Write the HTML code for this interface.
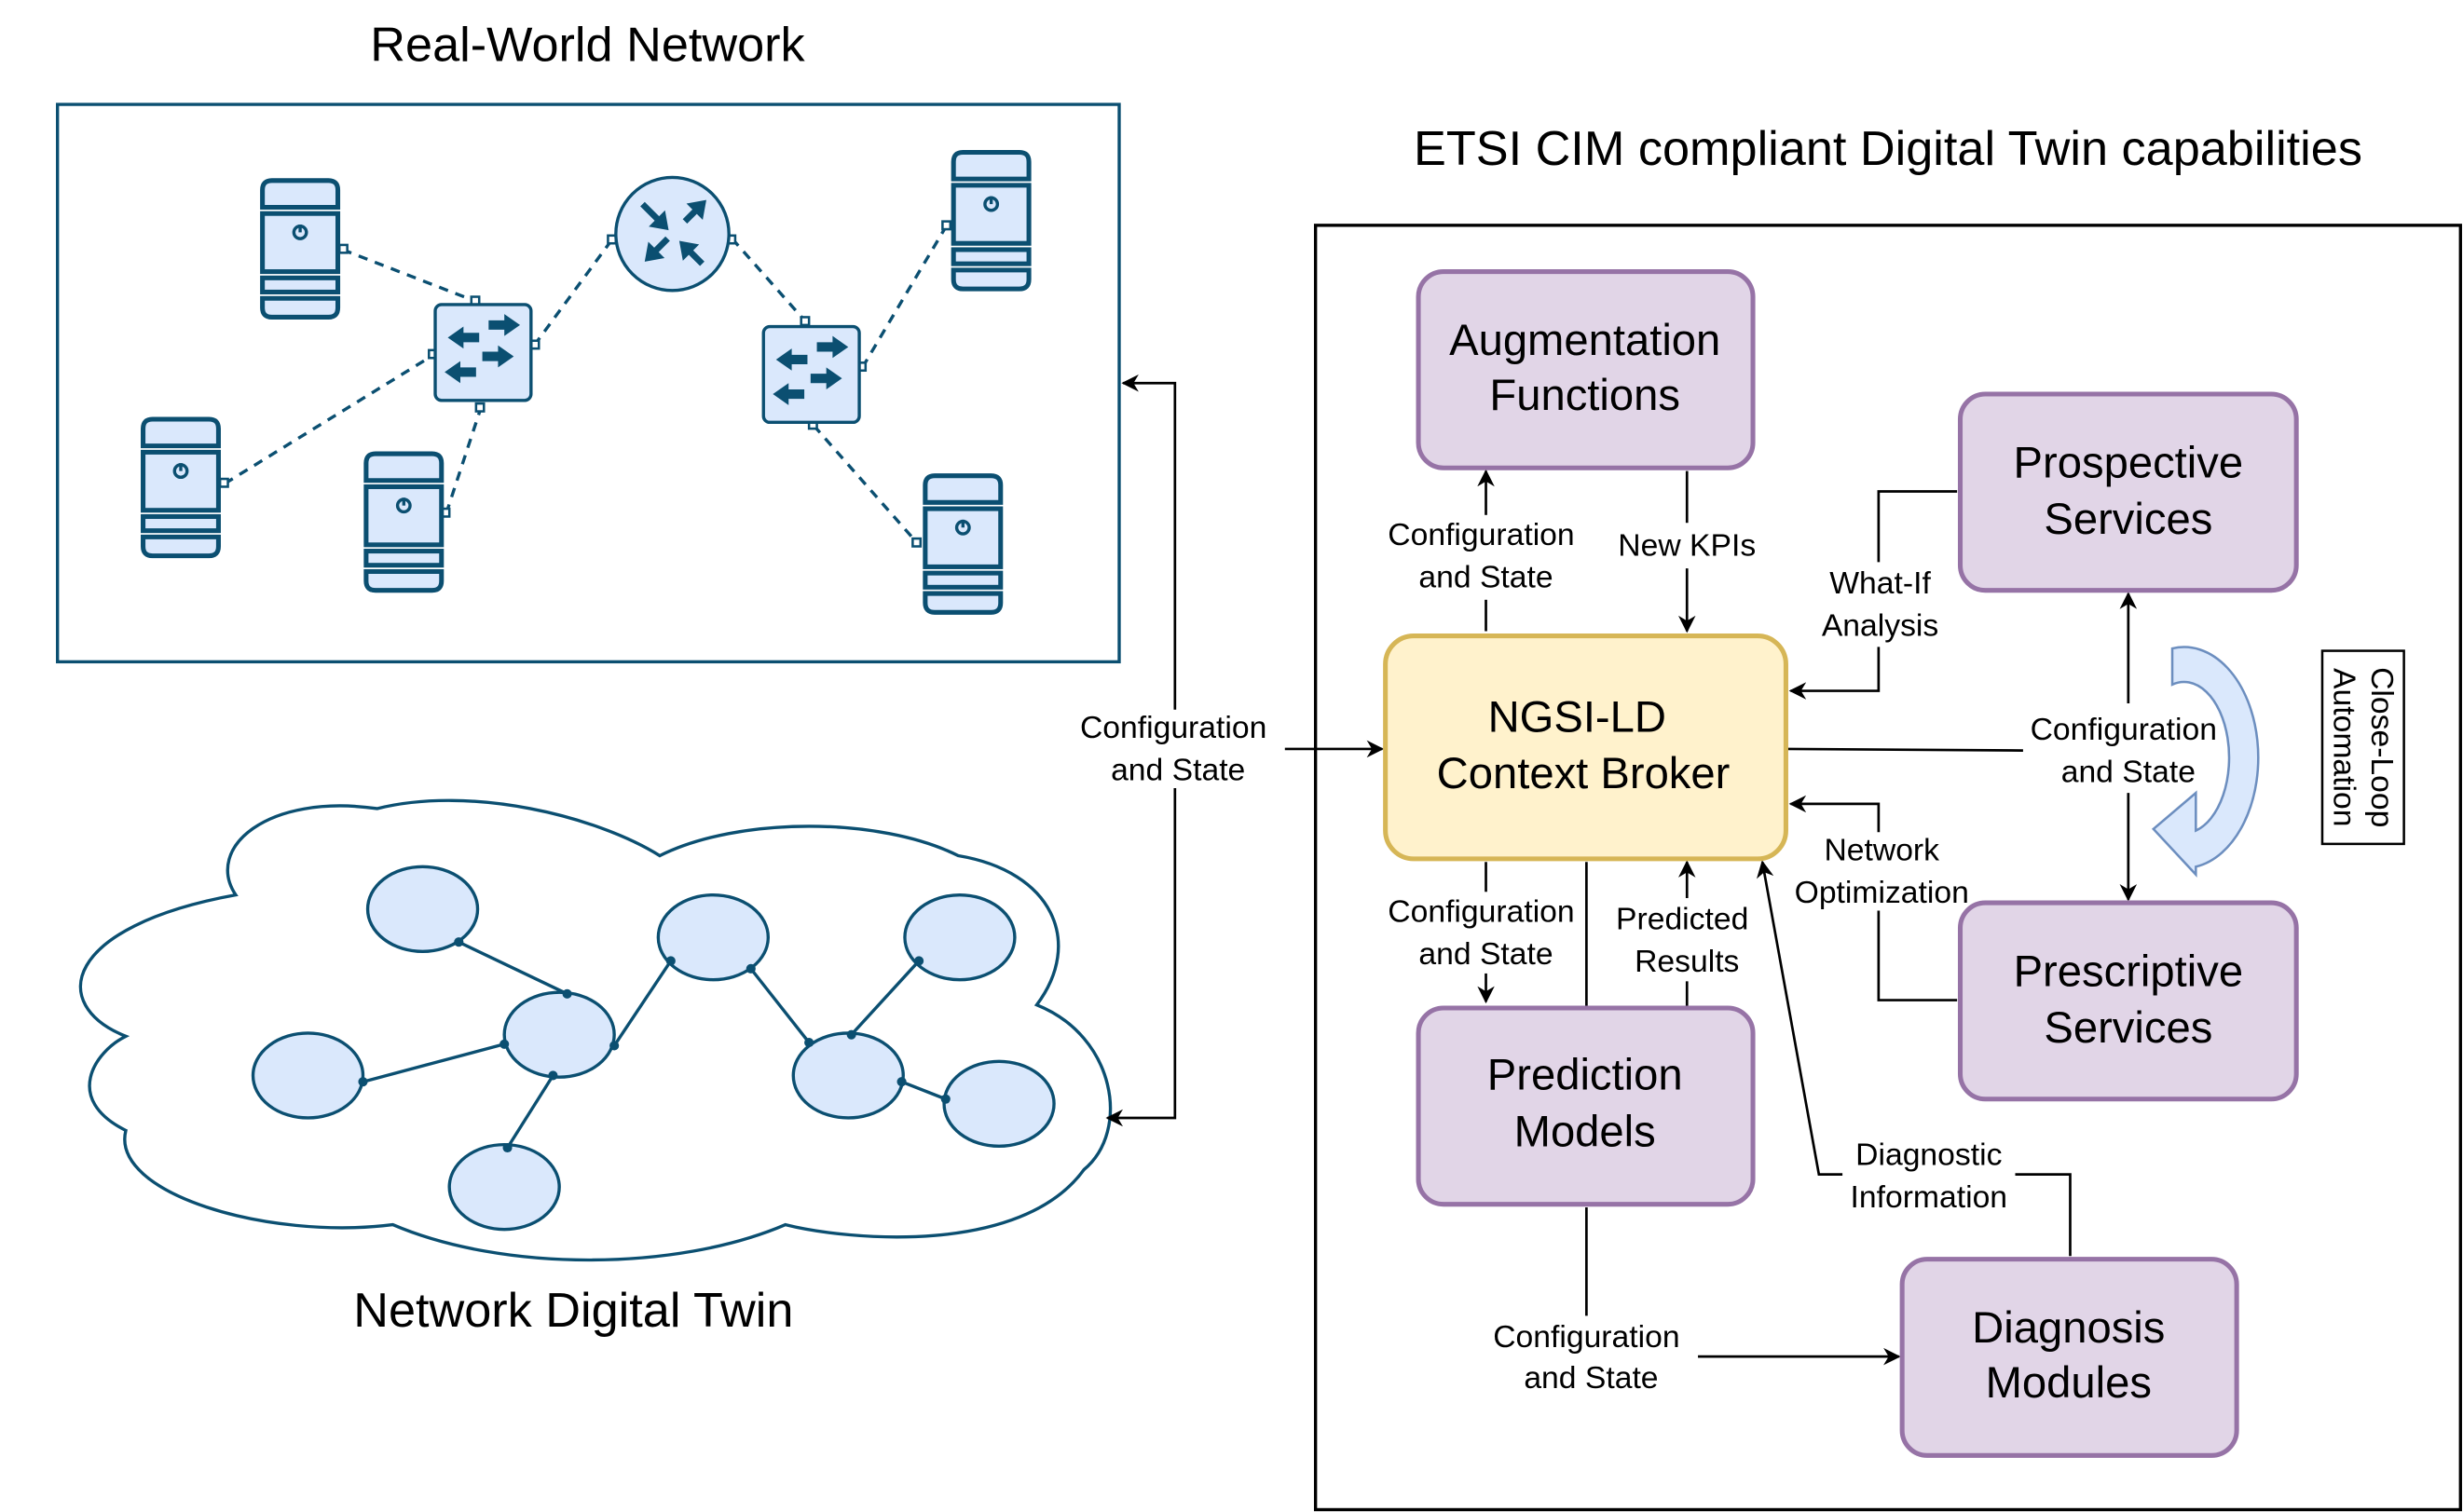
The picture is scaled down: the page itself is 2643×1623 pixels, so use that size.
<!DOCTYPE html>
<html><head><meta charset="utf-8"><style>
html,body{margin:0;padding:0;background:#fff;}
svg{display:block;}
text{font-family:"Liberation Sans",Arial,sans-serif;fill:#000;}
</style></head><body>
<svg width="2643" height="1623" viewBox="0 0 1568 963" xmlns="http://www.w3.org/2000/svg">
<defs>
<marker id="ah" viewBox="0 0 10 10" refX="9" refY="5" markerWidth="11" markerHeight="11" orient="auto-start-reverse" markerUnits="userSpaceOnUse">
<path d="M0,0 L10,5 L0,10 L3,5 Z" fill="#000"/></marker>
<g id="srv" fill="#dae8fc" stroke="#0b4f71" stroke-width="3">
<path d="M0,17 V6 Q0,0 6,0 H42 Q48,0 48,6 V17 Z"/>
<rect x="0" y="21" width="48" height="37"/>
<circle cx="24" cy="33" r="4" stroke-width="2"/><line x1="24" y1="28" x2="24" y2="33" stroke-width="2"/>
<rect x="0" y="62" width="48" height="9"/>
<path d="M0,75 H48 V81 Q48,87 42,87 H6 Q0,87 0,81 Z"/>
</g>
<g id="sw">
<rect x="0" y="0" width="61" height="61" rx="4" fill="#dae8fc" stroke="#0b4f71" stroke-width="2"/>
<g fill="#0b4f71">
<path d="M34,10 H44 V6 L54,13 L44,20 V16 H34 Z"/>
<path d="M28,18 H18 V14 L8,21 L18,28 V24 H28 Z"/>
<path d="M30,30 H40 V26 L50,33 L40,40 V36 H30 Z"/>
<path d="M26,40 H16 V36 L6,43 L16,50 V46 H26 Z"/>
</g></g>
</defs>

<text x="374" y="39" font-size="31" text-anchor="middle">Real-World Network</text>
<rect x="36.5" y="66.5" width="676" height="355" fill="none" stroke="#0b4f71" stroke-width="2"/>
<g stroke="#0b4f71" stroke-width="2" stroke-dasharray="6,5" fill="none">
<line x1="218" y1="159" x2="303" y2="192"/>
<line x1="143" y1="308" x2="276" y2="226"/>
<line x1="284" y1="327" x2="306" y2="260"/>
<line x1="340" y1="220" x2="390" y2="152"/>
<line x1="466" y1="152" x2="513" y2="205"/>
<line x1="549" y1="234" x2="603" y2="143"/>
<line x1="518" y1="271" x2="584" y2="346"/>
</g>
<g fill="#fff" stroke="#0b4f71" stroke-width="1.5">
<rect x="216" y="156" width="5" height="5"/><rect x="300" y="189" width="5" height="5"/>
<rect x="140" y="305" width="5" height="5"/><rect x="273" y="223" width="5" height="5"/>
<rect x="281" y="324" width="5" height="5"/><rect x="303" y="257" width="5" height="5"/>
<rect x="338" y="217" width="5" height="5"/><rect x="387" y="150" width="5" height="5"/>
<rect x="463" y="150" width="5" height="5"/><rect x="510" y="202" width="5" height="5"/>
<rect x="546" y="231" width="5" height="5"/><rect x="600" y="141" width="5" height="5"/>
<rect x="515" y="268" width="5" height="5"/><rect x="581" y="343" width="5" height="5"/>
</g>
<use href="#srv" x="167" y="115"/>
<use href="#srv" x="91" y="267"/>
<use href="#srv" x="233" y="289"/>
<use href="#srv" x="607" y="97"/>
<use href="#srv" x="589" y="303"/>
<use href="#sw" x="277" y="194"/>
<use href="#sw" x="486" y="208"/>
<circle cx="428" cy="149" r="36" fill="#dae8fc" stroke="#0b4f71" stroke-width="2"/>
<g stroke="#0b4f71" stroke-width="4" fill="#0b4f71">
<line x1="409" y1="130" x2="422" y2="143"/><path d="M425,146 L414,144 L423,135 Z" stroke-width="1"/>
<line x1="447" y1="130" x2="436" y2="141"/><path d="M449,128 L447,139 L438,130 Z" stroke-width="1"/>
<line x1="414" y1="163" x2="425" y2="152"/><path d="M411,166 L413,155 L422,164 Z" stroke-width="1"/>
<line x1="447" y1="168" x2="436" y2="157"/><path d="M433,154 L444,156 L435,165 Z" stroke-width="1"/>
</g>

<path d="M150,570 C130,540 170,505 240,515 C300,500 380,520 420,545 C470,520 560,520 610,545 C670,555 690,600 660,640 C710,660 720,720 690,745 C650,800 540,790 500,780 C430,810 320,810 250,780 C170,790 70,760 80,720 C40,700 60,670 80,660 C30,640 40,590 150,570 Z" fill="#fff" stroke="#0b4f71" stroke-width="2"/>
<g stroke="#0b4f71" stroke-width="2">
<line x1="292" y1="600" x2="361" y2="633"/>
<line x1="231" y1="689" x2="321" y2="665"/>
<line x1="391" y1="666" x2="427" y2="612"/>
<line x1="478" y1="617" x2="515" y2="664"/>
<line x1="542" y1="659" x2="585" y2="612"/>
<line x1="574" y1="689" x2="602" y2="700"/>
<line x1="352" y1="685" x2="323" y2="731"/>
</g>
<g fill="#dae8fc" stroke="#0b4f71" stroke-width="2">
<ellipse cx="269" cy="579" rx="35" ry="27"/>
<ellipse cx="196" cy="685" rx="35" ry="27"/>
<ellipse cx="356" cy="659" rx="35" ry="27"/>
<ellipse cx="454" cy="597" rx="35" ry="27"/>
<ellipse cx="611" cy="597" rx="35" ry="27"/>
<ellipse cx="540" cy="685" rx="35" ry="27"/>
<ellipse cx="636" cy="703" rx="35" ry="27"/>
<ellipse cx="321" cy="756" rx="35" ry="27"/>
</g>
<g fill="#0b4f71">
<circle cx="292" cy="600" r="3"/><circle cx="361" cy="633" r="3"/><circle cx="231" cy="689" r="3"/><circle cx="321" cy="665" r="3"/>
<circle cx="391" cy="666" r="3"/><circle cx="427" cy="612" r="3"/><circle cx="478" cy="617" r="3"/><circle cx="515" cy="664" r="3"/>
<circle cx="542" cy="659" r="3"/><circle cx="585" cy="612" r="3"/><circle cx="574" cy="689" r="3"/><circle cx="602" cy="700" r="3"/>
<circle cx="352" cy="685" r="3"/><circle cx="323" cy="731" r="3"/>
</g>
<text x="365" y="845" font-size="31" text-anchor="middle">Network Digital Twin</text>

<g stroke="#000" stroke-width="1.6" fill="none">
<polyline points="748,452 748,244 715,244" marker-end="url(#ah)"/>
<polyline points="748,502 748,712 705,712" marker-end="url(#ah)"/>
<line x1="818" y1="477" x2="880" y2="477" marker-end="url(#ah)"/>
</g>
<text x="747" y="470" font-size="20" text-anchor="middle">Configuration</text>
<text x="750" y="497" font-size="20" text-anchor="middle">and State</text>

<text x="1202" y="105" font-size="31" text-anchor="middle">ETSI CIM compliant Digital Twin capabilities</text>
<rect x="837.5" y="143.5" width="729" height="818" fill="none" stroke="#000" stroke-width="2"/>

<g stroke="#000" stroke-width="1.6" fill="none">
<polyline points="946,402 946,382"/><line x1="946" y1="328" x2="946" y2="300" marker-end="url(#ah)"/>
<line x1="1074" y1="300" x2="1074" y2="333"/><line x1="1074" y1="362" x2="1074" y2="402" marker-end="url(#ah)"/>
<polyline points="1246,313 1196,313 1196,358"/><polyline points="1196,412 1196,440 1140,440" marker-end="url(#ah)"/>
<line x1="1138" y1="477" x2="1288" y2="478"/>
<line x1="1355" y1="448" x2="1355" y2="378" marker-end="url(#ah)"/>
<line x1="1355" y1="505" x2="1355" y2="573" marker-end="url(#ah)"/>
<polyline points="1246,637 1196,637 1196,580"/><polyline points="1196,530 1196,512 1140,512" marker-end="url(#ah)"/>
<line x1="946" y1="549" x2="946" y2="568"/><line x1="946" y1="620" x2="946" y2="638" marker-end="url(#ah)"/>
<line x1="1010" y1="549" x2="1010" y2="641"/>
<line x1="1074" y1="572" x2="1074" y2="549" marker-end="url(#ah)"/><line x1="1074" y1="625" x2="1074" y2="641"/>
<polyline points="1318,800 1318,748 1283,748"/><polyline points="1173,748 1158,748 1122,549" marker-end="url(#ah)"/>
<line x1="1010" y1="769" x2="1010" y2="838"/>
<line x1="1081" y1="864" x2="1209" y2="864" marker-end="url(#ah)"/>
</g>
<g font-size="20" text-anchor="middle">
<text x="943" y="347">Configuration</text><text x="946" y="374">and State</text>
<text x="1074" y="354">New KPIs</text>
<text x="1197" y="378">What-If</text><text x="1197" y="405">Analysis</text>
<text x="1352" y="471">Configuration</text><text x="1355" y="498">and State</text>
<text x="1198" y="548">Network</text><text x="1198" y="575">Optimization</text>
<text x="943" y="587">Configuration</text><text x="946" y="614">and State</text>
<text x="1071" y="592">Predicted</text><text x="1074" y="619">Results</text>
<text x="1228" y="742">Diagnostic</text><text x="1228" y="769">Information</text>
<text x="1010" y="858">Configuration</text><text x="1013" y="884">and State</text>
</g>

<path d="M1383,413 A47,70 0 0 1 1398,552 L1398,557 L1371,528 L1398,505 L1398,529 A28,47 0 0 0 1383,436 Z" fill="#dae8fc" stroke="#6c8ebf" stroke-width="1.5"/>
<rect x="1478.5" y="414.5" width="52" height="123" fill="#fff" stroke="#000" stroke-width="1.5"/>
<g transform="translate(1504,476) rotate(90)" font-size="20" text-anchor="middle">
<text x="0" y="-6">Close-Loop</text><text x="0" y="18">Automation</text>
</g>

<g stroke="#9673a6" stroke-width="3" fill="#e1d5e7">
<rect x="903" y="173" width="213" height="125" rx="16"/>
<rect x="1248" y="251" width="214" height="125" rx="16"/>
<rect x="1248" y="575" width="214" height="125" rx="16"/>
<rect x="903" y="642" width="213" height="125" rx="16"/>
<rect x="1211" y="802" width="213" height="125" rx="16"/>
</g>
<rect x="882" y="405" width="255" height="142" rx="18" fill="#fff2cc" stroke="#d6b656" stroke-width="3"/>
<g font-size="28" text-anchor="middle">
<text x="1009" y="226">Augmentation</text><text x="1009" y="261">Functions</text>
<text x="1355" y="304">Prospective</text><text x="1355" y="340">Services</text>
<text x="1004" y="466">NGSI-LD</text><text x="1008" y="502">Context Broker</text>
<text x="1355" y="628">Prescriptive</text><text x="1355" y="664">Services</text>
<text x="1009" y="694">Prediction</text><text x="1009" y="730">Models</text>
<text x="1317" y="855">Diagnosis</text><text x="1317" y="890">Modules</text>
</g>
</svg>
</body></html>
